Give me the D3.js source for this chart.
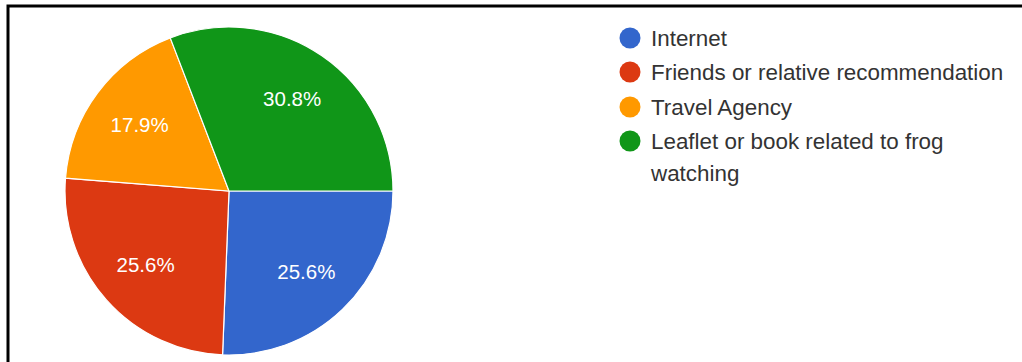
<!DOCTYPE html>
<html><head><meta charset="utf-8">
<script src="https://cdn.jsdelivr.net/npm/d3@7"></script>
<style>html,body{margin:0;padding:0;background:#fff;}svg{display:block;}</style>
</head><body>
<svg id="chart" width="1022" height="362"></svg>
<script>
const categories = ["Internet", "Friends or relative recommendation", "Travel Agency", "Leaflet or book related to frog watching"];
const legendLines = [["Internet"], ["Friends or relative recommendation"], ["Travel Agency"], ["Leaflet or book related to frog", "watching"]];
const values = [25.6, 25.6, 17.9, 30.8];
const labels = ["25.6%", "25.6%", "17.9%", "30.8%"];
const colors = ["#3366cc", "#dc3912", "#ff9900", "#109618"];

const svg = d3.select("#chart");
// frame (top and left edges)
svg.append("path").attr("d", "M8,362 L8,6 L1022,6").attr("fill", "none").attr("stroke", "#000").attr("stroke-width", 3);

const cx = 229, cy = 191, R = 164;
const pie = d3.pie().value(d => d).sort(null).startAngle(Math.PI / 2).endAngle(Math.PI / 2 + 2 * Math.PI);
const arcs = pie(values);
const arc = d3.arc().innerRadius(0).outerRadius(R);
const labelArc = d3.arc().innerRadius(R * 0.68).outerRadius(R * 0.68);
const g = svg.append("g").attr("transform", `translate(${cx},${cy})`);
g.selectAll("path.slice").data(arcs).join("path").attr("class", "slice")
  .attr("d", arc).attr("fill", (d, i) => colors[i]).attr("stroke", "#fff").attr("stroke-width", 1.2);
g.selectAll("text.lbl").data(arcs).join("text").attr("class", "lbl")
  .attr("transform", d => `translate(${labelArc.centroid(d)})`)
  .attr("text-anchor", "middle").attr("dy", "0.36em")
  .attr("font-family", "Arial, 'Liberation Sans', sans-serif").attr("font-size", 20.5)
  .attr("fill", "#fff").text((d, i) => labels[i]);

const legendY = d3.scaleOrdinal().domain(categories).range([38, 72, 107, 141]);
const lg = svg.append("g");
categories.forEach((c, i) => {
  const y = legendY(c);
  lg.append("circle").attr("cx", 630).attr("cy", y).attr("r", 10.5).attr("fill", colors[i]);
  const t = lg.append("text").attr("x", 651).attr("y", y)
    .attr("font-family", "Arial, 'Liberation Sans', sans-serif").attr("font-size", 22.4).attr("fill", "#333");
  legendLines[i].forEach((ln, j) => {
    t.append("tspan").attr("x", 651).attr("dy", j === 0 ? "0.36em" : 32).text(ln);
  });
});
</script>
</body></html>
